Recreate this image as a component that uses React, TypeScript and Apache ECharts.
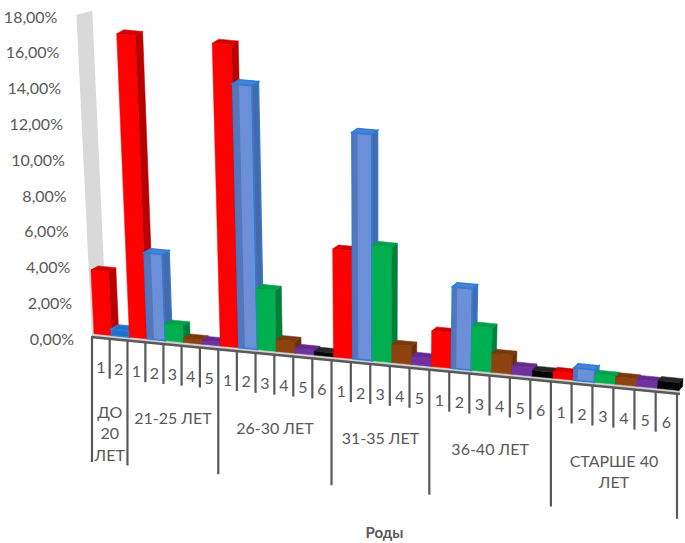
import React, { useEffect, useRef } from "react";
import * as echarts from "echarts";

// ---------- data ----------
const groups = ["ДО\n20\nЛЕТ", "21-25 ЛЕТ", "26-30 ЛЕТ", "31-35 ЛЕТ", "36-40 ЛЕТ", "СТАРШЕ 40\nЛЕТ"];
const births = [
  ["1", "2"],
  ["1", "2", "3", "4", "5"],
  ["1", "2", "3", "4", "5", "6"],
  ["1", "2", "3", "4", "5"],
  ["1", "2", "3", "4", "5", "6"],
  ["1", "2", "3", "4", "5", "6"],
];
const shares = [
  [3.55, 0.35],
  [16.65, 4.7, 0.9, 0.24, 0.2],
  [16.05, 13.9, 3.2, 0.62, 0.25, 0.2],
  [5.5, 11.45, 5.8, 0.92, 0.41],
  [1.75, 4.0, 2.16, 0.92, 0.4, 0.29],
  [0.33, 0.59, 0.38, 0.35, 0.32, 0.36],
];
const yTicks = [0, 2, 4, 6, 8, 10, 12, 14, 16, 18];
const axisTitle = "Роды";

// ---------- styles ----------
const birthColors = [
  { front: "#ff0000", side: "#b80000", top: "#d40000" },
  { front: "#5676bc", light: "#6b90d8", side: "#4b68a6", top: "#4f7fd0", stroke: "#2a7fda", small: "#2070cc" },
  { front: "#00b050", side: "#007f39", top: "#00a048" },
  { front: "#8e420e", side: "#6a3009", top: "#7a390d" },
  { front: "#7030a0", side: "#50227a", top: "#622a8e" },
  { front: "#050505", side: "#000000", top: "#262626" },
];
const TEXT = "#595959";
const FONT = 'Lato, "Noto Sans", sans-serif';

// perspective constants
const ALPHA = 0.9026; // column widening
const SLOPE = 0.097; // floor slope
const VP = 0.492; // vanishing point fraction
const LEAN = 0.000168;
const PERSP = 0.0072;
const SHORT = 40;
const LONG = 125;

type Col = { u: number; b: number; label: string; value: number; first: boolean; g: number; gStart: number; gEnd: number };
const columns: Col[] = [];
(() => {
  let u = 0;
  groups.forEach((_, g) => {
    const start = u;
    births[g].forEach((lab, i) => {
      columns.push({
        u,
        b: Number(lab) - 1,
        label: lab,
        value: shares[g][i],
        first: i === 0,
        g,
        gStart: start,
        gEnd: start + births[g].length,
      });
      u++;
    });
  });
})();
const TOTAL = columns.length;

function geo(api: any) {
  const p0 = api.coord([0, 0]);
  const p1 = api.coord([TOTAL, 0]);
  const L = p0[0];
  const W = p1[0] - p0[0];
  const y0 = p0[1];
  const warpX = (u: number) => {
    const t = u / TOTAL;
    return L + W * (ALPHA * t + (1 - ALPHA) * t * t);
  };
  const axisY = (X: number) => y0 - 1.3 + SLOPE * (X - L);
  const vpx = L + VP * W;
  const lean = (X: number, h: number) => X + (X - vpx) * LEAN * h;
  return { L, W, y0, warpX, axisY, lean };
}

function txt(x: number, y: number, text: string, opts: any = {}) {
  const align = opts.align || "center";
  const valign = opts.valign || "middle";
  return {
    type: "text",
    x,
    y,
    style: {
      text,
      fill: opts.fill || TEXT,
      font: opts.font || `16px ${FONT}`,
      align,
      textAlign: align,
      verticalAlign: valign,
      textVerticalAlign: valign,
      lineHeight: opts.lineHeight || 21.5,
    },
  };
}

const renderBars = (params: any, api: any) => {
  const c = columns[params.dataIndex];
  const G = geo(api);
  const uc = c.u + 0.5;
  const h = (G.y0 - api.coord([uc, c.value])[1]) * (1 + PERSP * uc);
  const col: any = birthColors[c.b];
  const xl = G.warpX(c.u) + 2;
  const xr = G.warpX(c.u + 1) + 2;
  const ybl = G.axisY(xl) - 3.5;
  const ybr = G.axisY(xr) - 3.5;
  const dx = 7 - (3.5 * (xl - G.L)) / G.W;
  const dy = -4;
  const FL = [xl, ybl];
  const FR = [xr, ybr];
  const TL = [G.lean(xl, h), ybl - h];
  const TR = [G.lean(xr, h), ybr - h];
  const BR = [xr + dx, ybr + dy];
  const TBR = [G.lean(xr + dx, h), ybr + dy - h];
  const TBL = [G.lean(xl + dx, h), ybl + dy - h];
  const isBlue = c.b === 1;
  const tiny = isBlue && h < 8;
  const sw = isBlue ? col.stroke : undefined;
  const children: any[] = [];
  children.push({
    type: "polygon",
    shape: { points: [FL, FR, TR, TL] },
    style: { fill: tiny ? col.small : col.front, stroke: sw || col.front, lineWidth: isBlue ? 1.4 : 0.5 },
  });
  if (isBlue && h > 8) {
    const xi = xl + dx;
    const yi = G.axisY(xi) - 3.5;
    children.push({
      type: "polygon",
      shape: { points: [[xi, yi - 1], [xr - 1, ybr - 1], [G.lean(xr - 1, h), ybr - h + 1], [G.lean(xi, h), yi - h + 1]] },
      style: { fill: col.light },
    });
  }
  children.push({
    type: "polygon",
    shape: { points: [FR, TR, TBR, BR] },
    style: { fill: tiny ? col.small : col.side, stroke: sw || col.side, lineWidth: isBlue ? 1.4 : 0.5 },
  });
  children.push({
    type: "polygon",
    shape: { points: [TL, TR, TBR, TBL] },
    style: { fill: tiny ? col.small : col.top, stroke: sw || col.top, lineWidth: isBlue ? 1.4 : 0.5 },
  });
  return { type: "group", children };
};

const renderAxis = (params: any, api: any) => {
  const c = columns[params.dataIndex];
  const G = geo(api);
  const xa = G.warpX(c.u);
  const xb = G.warpX(c.u + 1);
  const xc = (xa + xb) / 2;
  const children: any[] = [];
  const tick = (x: number, len: number) => ({
    type: "line",
    shape: { x1: x, y1: G.axisY(x), x2: x, y2: G.axisY(x) + len },
    style: { stroke: TEXT, lineWidth: 2.2 },
  });
  children.push(tick(xa, c.first ? LONG : SHORT));
  if (c.u + 1 === TOTAL) children.push(tick(xb, LONG));
  children.push(txt(xc, G.axisY(xc) + 29, c.label));
  if (c.first) {
    const gx = (G.warpX(c.gStart) + G.warpX(c.gEnd)) / 2;
    children.push(txt(gx, G.axisY(gx) + 62, groups[c.g], { valign: "top" }));
  }
  return { type: "group", children };
};

const renderWall = (params: any, api: any) => {
  const v = yTicks[params.dataIndex];
  const G = geo(api);
  const children: any[] = [];
  if (params.dataIndex === 0) {
    const Htop = G.y0 - api.coord([0, yTicks[yTicks.length - 1]])[1];
    const bl = G.L;
    const br = G.L + 15;
    const ybl = G.axisY(bl);
    const ybr = G.axisY(bl) - 4;
    children.push({
      type: "polygon",
      shape: {
        points: [
          [bl, ybl],
          [br, ybr],
          [G.lean(br, Htop), ybr - Htop],
          [G.lean(bl, Htop), ybl - Htop],
        ],
      },
      style: { fill: "#d9d9d9" },
    });
    const xR = G.L + G.W + 3;
    children.push({
      type: "polygon",
      shape: {
        points: [
          [G.L, G.axisY(G.L) - 0.5],
          [xR, G.axisY(xR) - 0.5],
          [xR, G.axisY(xR) - 4.5],
          [G.L, G.axisY(G.L) - 4.5],
        ],
      },
      style: { fill: "#d0d0d0" },
    });
    children.push({
      type: "line",
      shape: { x1: G.L - 1, y1: G.axisY(G.L - 1), x2: xR, y2: G.axisY(xR) },
      style: { stroke: TEXT, lineWidth: 2.5 },
    });
  }
  const yv = api.coord([0, v])[1];
  const h = G.y0 - yv;
  const label = v.toFixed(2).replace(".", ",") + "%";
  children.push(txt(G.lean(G.L - 18, h), yv, label, { align: "right" }));
  return { type: "group", children };
};

const option: any = {
  animation: false,
  backgroundColor: "#ffffff",
  grid: { left: 92, right: 8, top: 16.1, bottom: 204.7 },
  xAxis: { type: "value", min: 0, max: TOTAL, show: false },
  yAxis: { type: "value", min: 0, max: 18, interval: 2, show: false },
  series: [
    {
      type: "custom",
      name: "wall",
      z: 1,
      silent: true,
      renderItem: renderWall,
      data: yTicks.map((v) => [0, v]),
    },
    {
      type: "custom",
      name: "bars",
      z: 2,
      silent: true,
      renderItem: renderBars,
      data: columns.map((c) => [c.u, c.value, c.b]),
    },
    {
      type: "custom",
      name: "axis",
      z: 3,
      silent: true,
      renderItem: renderAxis,
      data: columns.map((c) => [c.u, 0]),
    },
  ],
  graphic: [
    {
      type: "text",
      x: 384.5,
      y: 532,
      style: {
        text: axisTitle,
        fill: TEXT,
        font: `bold 15px ${FONT}`,
        align: "center",
        textAlign: "center",
        verticalAlign: "middle",
        textVerticalAlign: "middle",
      },
    },
  ],
};

export default function App() {
  const ref = useRef<HTMLDivElement>(null);
  useEffect(() => {
    const chart = echarts.init(ref.current!, null, { renderer: "svg" });
    chart.setOption(option);
    return () => chart.dispose();
  }, []);
  return (
    <div
      ref={ref}
      style={{ position: "fixed", left: 0, top: 0, width: 685, height: 543, background: "#fff" }}
    />
  );
}
